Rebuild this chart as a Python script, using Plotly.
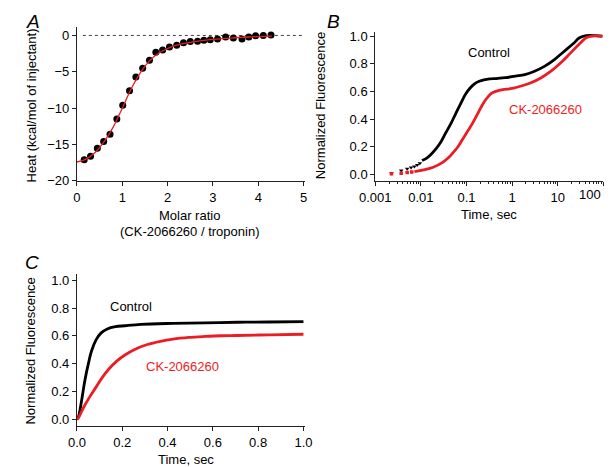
import plotly.graph_objects as go

W, H = 612, 467
RED = "#ec1c24"
FONT = "Liberation Sans, Arial, sans-serif"

# ---------------- Panel A data (ITC) ----------------
a_molar = [0.16, 0.30, 0.45, 0.59, 0.73, 0.88, 1.01, 1.16, 1.30, 1.45, 1.60, 1.74,
           1.89, 2.04, 2.20, 2.35, 2.50, 2.66, 2.80, 2.94, 3.10, 3.28, 3.45, 3.64,
           3.79, 3.94, 4.11, 4.28]
a_heat = [-17.1, -16.6, -15.5, -14.6, -13.6, -11.5, -9.6, -7.6, -5.7, -4.5, -3.4, -2.3,
          -2.0, -1.6, -1.35, -1.0, -0.85, -0.8, -0.67, -0.6, -0.5, -0.2, -0.35, -0.5,
          -0.2, -0.05, 0.0, 0.05]
a_fit_x = [0.0, 0.2, 0.4, 0.6, 0.8, 1.0, 1.2, 1.4, 1.6, 1.8, 2.0, 2.2, 2.4, 2.6,
           2.8, 3.0, 3.2, 3.4, 3.6, 3.8, 4.0, 4.3]
a_fit_y = [-17.4, -17.0, -16.1, -14.6, -12.6, -10.0, -7.3, -5.1, -3.5, -2.45, -1.8,
           -1.35, -1.05, -0.85, -0.68, -0.55, -0.45, -0.36, -0.28, -0.22, -0.17, -0.1]
a_zero_x = [0.13, 5.0]
a_zero_y = [0, 0]

# ---------------- Panel B data (log time course) ----------------
b_ctrl_sparse_t = [0.00226, 0.0037, 0.0050, 0.0061, 0.0072, 0.0083, 0.0095]
b_ctrl_sparse_y = [0.009, 0.028, 0.04, 0.05, 0.058, 0.068, 0.08]
b_ctrl_t = [0.0106, 0.0137, 0.0172, 0.022, 0.028, 0.035, 0.046, 0.058, 0.074,
            0.095, 0.12, 0.15, 0.19, 0.24, 0.32, 0.45, 0.72, 1.18, 1.9, 3.1, 5.1,
            8.3, 13.5, 22, 30, 42, 69, 95]
b_ctrl_y = [0.10, 0.12, 0.15, 0.19, 0.24, 0.30, 0.37, 0.44, 0.51, 0.58, 0.625, 0.655,
            0.673, 0.683, 0.69, 0.693, 0.699, 0.711, 0.722, 0.746, 0.781, 0.828,
            0.887, 0.946, 0.988, 1.003, 1.003, 1.0]
b_ck_sparse_t = [0.00226, 0.0037, 0.0050, 0.0063]
b_ck_sparse_y = [0.005, 0.009, 0.013, 0.017]
b_ck_t = [0.0072, 0.0115, 0.0186, 0.030, 0.040, 0.050, 0.065, 0.081, 0.10, 0.13,
          0.17, 0.22, 0.27, 0.35, 0.44, 0.62, 1.0, 1.63, 2.66, 4.34, 7.1, 11.5,
          18.7, 30.5, 42, 58, 95]
b_ck_y = [0.02, 0.033, 0.052, 0.087, 0.12, 0.155, 0.20, 0.25, 0.30, 0.36, 0.43,
          0.50, 0.545, 0.585, 0.60, 0.613, 0.621, 0.64, 0.664, 0.699, 0.746, 0.805,
          0.875, 0.946, 0.988, 1.0, 0.998]
b_ticks = [0.001, 0.01, 0.1, 1, 10, 100]
b_ticktext = ["0.001", "0.01", "0.1", "1", "10", ""]

# ---------------- Panel C data (linear time course) ----------------
c_ctrl_t = [0.0, 0.007, 0.021, 0.035, 0.05, 0.064, 0.085, 0.106, 0.134, 0.17, 0.212,
            0.283, 0.424, 0.566, 0.707, 0.849, 1.0]
c_ctrl_y = [0.0, 0.02, 0.14, 0.28, 0.397, 0.49, 0.573, 0.62, 0.65, 0.666, 0.673,
            0.683, 0.69, 0.694, 0.698, 0.70, 0.702]
c_ck_t = [0.0, 0.007, 0.028, 0.057, 0.085, 0.113, 0.141, 0.177, 0.212, 0.255, 0.311,
          0.368, 0.424, 0.495, 0.566, 0.636, 0.707, 0.849, 1.0]
c_ck_y = [0.0, 0.012, 0.082, 0.164, 0.234, 0.304, 0.362, 0.421, 0.463, 0.503, 0.538,
          0.561, 0.577, 0.589, 0.596, 0.601, 0.603, 0.608, 0.612]

fig = go.Figure()

# Panel A
fig.add_trace(go.Scatter(x=a_zero_x, y=a_zero_y, mode="lines",
                         line=dict(color="#444444", width=1, dash="dot"),
                         xaxis="x", yaxis="y", showlegend=False))
fig.add_trace(go.Scatter(x=a_molar, y=a_heat, mode="markers",
                         marker=dict(color="black", size=7),
                         xaxis="x", yaxis="y", showlegend=False))
fig.add_trace(go.Scatter(x=a_fit_x, y=a_fit_y, mode="lines",
                         line=dict(color=RED, width=1.3, shape="spline"),
                         xaxis="x", yaxis="y", showlegend=False))

# Panel B
fig.add_trace(go.Scatter(x=b_ctrl_sparse_t, y=b_ctrl_sparse_y, mode="markers",
                         marker=dict(color="black", size=4, symbol="triangle-down"),
                         xaxis="x2", yaxis="y2", showlegend=False))
fig.add_trace(go.Scatter(x=b_ctrl_t, y=b_ctrl_y, mode="lines",
                         line=dict(color="black", width=2.8, shape="spline"),
                         xaxis="x2", yaxis="y2", showlegend=False))
fig.add_trace(go.Scatter(x=b_ck_sparse_t, y=b_ck_sparse_y, mode="markers",
                         marker=dict(color=RED, size=3.5, symbol="square"),
                         xaxis="x2", yaxis="y2", showlegend=False))
fig.add_trace(go.Scatter(x=b_ck_t, y=b_ck_y, mode="lines",
                         line=dict(color=RED, width=2.8, shape="spline"),
                         xaxis="x2", yaxis="y2", showlegend=False))

# Panel C
fig.add_trace(go.Scatter(x=c_ctrl_t, y=c_ctrl_y, mode="lines",
                         line=dict(color="black", width=2.8, shape="spline"),
                         xaxis="x3", yaxis="y3", showlegend=False))
fig.add_trace(go.Scatter(x=c_ck_t, y=c_ck_y, mode="lines",
                         line=dict(color=RED, width=2.8, shape="spline"),
                         xaxis="x3", yaxis="y3", showlegend=False))


def px(x):
    return x / W


def py(y):
    return 1 - y / H


axis_common = dict(showline=True, linecolor="#222222", linewidth=1, ticks="outside",
                   ticklen=4, tickwidth=1, tickcolor="#222222", showgrid=False,
                   zeroline=False, tickfont=dict(family=FONT, size=13, color="black"))

fig.update_layout(
    width=W, height=H, margin=dict(l=0, r=0, t=0, b=0),
    paper_bgcolor="white", plot_bgcolor="white",
    font=dict(family=FONT, size=13, color="black"),
    xaxis=dict(domain=[px(55), px(292)], range=[0, 5.03], anchor="y",
               tickvals=[0, 1, 2, 3, 4, 5], **axis_common),
    yaxis=dict(domain=[py(174), py(16)], range=[-20, 1.21], anchor="x",
               tickvals=[0, -5, -10, -15, -20], **axis_common),
    xaxis2=dict(domain=[px(365), px(602)], type="log", range=[-3, 2.0], anchor="y2",
                tickvals=b_ticks, ticktext=b_ticktext,
                minor=dict(ticks="outside", ticklen=2, tickcolor="#222222",
                           tickvals=[m * d for d in [0.001, 0.01, 0.1, 1, 10]
                                     for m in range(2, 10)]),
                **axis_common),
    yaxis2=dict(domain=[py(174), py(21)], range=[-0.047, 1.033], anchor="x2",
                tickvals=[0, 0.2, 0.4, 0.6, 0.8, 1.0], tickformat=".1f", **axis_common),
    xaxis3=dict(domain=[px(55), px(292)], range=[0, 1.007], anchor="y3",
                tickvals=[0, 0.2, 0.4, 0.6, 0.8, 1.0], tickformat=".1f", **axis_common),
    yaxis3=dict(domain=[py(425), py(269)], range=[-0.047, 1.047], anchor="x3",
                tickvals=[0, 0.2, 0.4, 0.6, 0.8, 1.0], tickformat=".1f", **axis_common),
)

ann = []


def text(x, y, s, color="black", size=13, angle=0, italic=False, xanchor="center"):
    ann.append(dict(x=px(x), y=py(y), xref="paper", yref="paper", text=s,
                    showarrow=False, textangle=angle, xanchor=xanchor, yanchor="middle",
                    font=dict(family=FONT, size=size, color=color,
                              style="italic" if italic else "normal")))


# panel letters
text(9, 11, "A", size=19, italic=True)
text(322, 11, "B", size=19, italic=True)
text(8, 258, "C", size=19, italic=True)
# axis titles
text(8, 97, "Heat (kcal/mol of injectant)", angle=-90, size=13)
text(172, 209, "Molar ratio")
text(172, 226, "(CK-2066260 / troponin)")
text(308, 97, "Normalized Fluorescence", angle=-90, size=13)
text(483, 208, "Time, sec")
text(7, 348, "Normalized Fluorescence", angle=-90, size=13)
text(168, 459, "Time, sec")
# last log tick label, shifted to fit inside the page as in the original
text(602, 188, "100", xanchor="right")
# in-plot labels
text(483, 43, "Control")
text(542, 101, "CK-2066260", color=RED)
text(111, 303, "Control")
text(165, 364, "CK-2066260", color=RED)

fig.update_layout(annotations=ann)
fig.write_html("out.html")
